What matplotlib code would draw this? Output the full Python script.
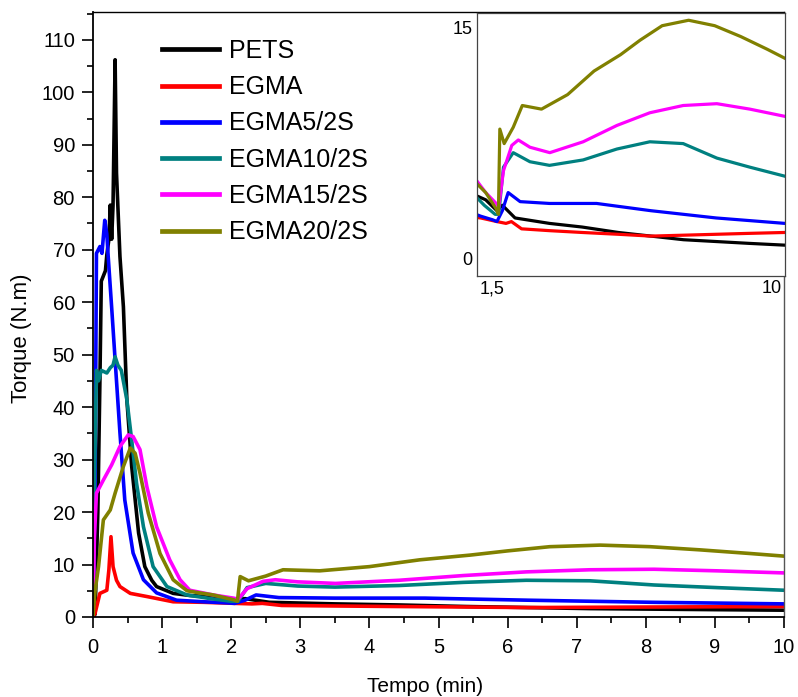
import matplotlib
matplotlib.use("Agg")
import matplotlib.pyplot as plt
from matplotlib.ticker import MultipleLocator

plt.rcParams['font.family'] = ['Liberation Sans', 'DejaVu Sans']

# ---- data (time in min, torque in N.m) ----
pets_t = [0, 0.03, 0.07, 0.1, 0.12, 0.15, 0.18, 0.2, 0.23, 0.25, 0.27, 0.29, 0.32, 0.34, 0.39,
          0.44, 0.49, 0.56, 0.66, 0.75, 0.85, 0.92, 1.16, 1.4, 1.74, 2.05, 2.2, 2.55, 3.5,
          4.4, 5.4, 6.3, 7.2, 8.1, 9.0, 10]
pets_y = [0, 0.5, 20, 45, 64, 65, 66, 69, 72, 78.5, 72, 78.5, 106.2, 84.6, 68.7,
          59.1, 41.4, 28.7, 16, 9.6, 7.0, 5.8, 4.5, 4.1, 3.8, 3.2, 3.5, 2.8, 2.5,
          2.3, 2.0, 1.8, 1.6, 1.5, 1.4, 1.3]

egma_t = [0, 0.03, 0.1, 0.2, 0.23, 0.26, 0.29, 0.34, 0.39, 0.54, 0.78, 1.16, 1.6, 2.05,
          2.3, 2.45, 2.73, 3.5, 4.4, 5.4, 6.3, 7.2, 8.1, 9.0, 10]
egma_y = [0, 0.7, 4.5, 5.1, 9, 15.3, 9.6, 7, 5.8, 4.5, 3.9, 2.9, 2.8, 2.6,
          2.5, 2.6, 2.2, 2.1, 2.0, 1.9, 1.8, 1.85, 1.9, 1.95, 2.0]

e5_t = [0, 0.03, 0.05, 0.1, 0.13, 0.17, 0.2, 0.22, 0.27, 0.33, 0.39, 0.46, 0.58, 0.73,
        0.92, 1.21, 1.6, 1.93, 2.05, 2.2, 2.36, 2.69, 3.5, 4.8, 6.3, 8.1, 10]
e5_y = [0, 25, 69.3, 70.6, 69.3, 75.6, 73, 68.7, 59, 47, 35.1, 22.3, 12.2, 7.1,
        4.6, 3.2, 2.9, 2.7, 2.6, 3.2, 4.2, 3.7, 3.6, 3.6, 3.2, 2.8, 2.5]

e10_t = [0, 0.02, 0.05, 0.08, 0.12, 0.2, 0.25, 0.29, 0.32, 0.36, 0.41, 0.49, 0.56, 0.63,
         0.73, 0.87, 1.07, 1.36, 1.7, 2.0, 2.1, 2.23, 2.5, 2.96, 3.5, 4.43, 5.36, 6.27,
         7.19, 8.12, 9.03, 10]
e10_y = [0, 25, 47, 45, 47, 46.5, 47.5, 48, 49.6, 48, 47, 41.4, 33.7, 25.5,
         17.2, 9.6, 5.8, 4.2, 3.5, 3.0, 3.0, 5.6, 6.4, 5.9, 5.7, 6.0, 6.6, 7.0,
         6.9, 6.1, 5.6, 5.1]

e15_t = [0, 0.02, 0.05, 0.15, 0.27, 0.39, 0.51, 0.58, 0.68, 0.78, 0.92, 1.11, 1.26, 1.4,
         1.74, 2.03, 2.1, 2.23, 2.46, 2.64, 2.96, 3.51, 4.43, 5.36, 6.27, 7.19, 8.12,
         9.03, 10]
e15_y = [0, 15, 23.6, 26.1, 29, 32.5, 34.7, 34.4, 31.9, 24.8, 17.2, 10.9, 7.1, 5.1,
         4.2, 3.6, 3.4, 5.4, 6.8, 7.1, 6.7, 6.4, 7.0, 7.9, 8.6, 9.0, 9.1,
         8.8, 8.4]

e20_t = [0, 0.03, 0.08, 0.15, 0.25, 0.32, 0.44, 0.54, 0.61, 0.68, 0.8, 0.97, 1.16, 1.36,
         1.54, 1.74, 2.03, 2.09, 2.13, 2.25, 2.5, 2.75, 3.28, 4.0, 4.73, 5.46, 6.0, 6.61,
         7.34, 8.06, 8.78, 9.51, 10]
e20_y = [0, 5, 9.6, 18.5, 20.4, 23.6, 28.7, 32.2, 31.2, 27.4, 19.8, 12.1, 7.1, 5.0,
         4.6, 4.2, 3.3, 3.0, 7.7, 6.9, 7.8, 9.0, 8.8, 9.6, 10.9, 11.8, 12.6, 13.4,
         13.7, 13.4, 12.8, 12.1, 11.6]

series = [
    ("PETS", pets_t, pets_y, "#000000"),
    ("EGMA", egma_t, egma_y, "#ff0000"),
    ("EGMA5/2S", e5_t, e5_y, "#0000ff"),
    ("EGMA10/2S", e10_t, e10_y, "#008080"),
    ("EGMA15/2S", e15_t, e15_y, "#ff00ff"),
    ("EGMA20/2S", e20_t, e20_y, "#808000"),
]

W, H = 798, 697
fig = plt.figure(figsize=(W / 100, H / 100), dpi=100)
ax = fig.add_axes([93 / W, 1 - 617 / H, 691 / W, 605 / H])

for name, t, y, c in series:
    ax.plot(t, y, color=c, lw=2.6, label=name, solid_joinstyle='round')

ax.set_xlim(0, 10)
ax.set_ylim(0, 115.3)
ax.xaxis.set_major_locator(MultipleLocator(1))
ax.xaxis.set_minor_locator(MultipleLocator(0.5))
ax.yaxis.set_major_locator(MultipleLocator(10))
ax.yaxis.set_minor_locator(MultipleLocator(5))
ax.tick_params(which='major', direction='out', length=8, width=1.2, labelsize=14.5, top=False, right=False)
ax.tick_params(which='minor', direction='out', length=4.5, width=1.2, top=False, right=False)
ax.tick_params(axis='x', pad=7)
ax.tick_params(axis='y', pad=5)
for s in ['left', 'bottom']:
    ax.spines[s].set_linewidth(1.3)
ax.spines['top'].set_linewidth(1.0)
ax.spines['right'].set_linewidth(1.0)
ax.spines['right'].set_color('#555555')

ax.set_xlabel('Tempo (min)', fontsize=15)
ax.set_ylabel('Torque (N.m)', fontsize=16)
ax.xaxis.set_label_coords(0.48, -0.1)
ax.yaxis.set_label_coords(-0.088, 0.461)

leg = ax.legend(loc='upper left', bbox_to_anchor=(162 / W, 1 - 39 / H),
                bbox_transform=fig.transFigure, frameon=False, fontsize=18,
                borderpad=0, borderaxespad=0, handlelength=2.28,
                handletextpad=0.4, labelspacing=0.49)
for line in leg.get_lines():
    line.set_linewidth(3.4)

# ---- inset ----
axi = fig.add_axes([477 / W, 1 - 276 / H, 308 / W, 263 / H])
for name, t, y, c in series:
    axi.plot(t, y, color=c, lw=2.3, solid_joinstyle='round')
axi.set_xlim(1.5, 10)
axi.set_ylim(-0.4, 14.1)
axi.set_xticks([1.91, 9.64])
axi.set_xticklabels(['1,5', '10'])
axi.set_yticks([0.58, 13.3])
axi.set_yticklabels(['0', '15'])
axi.tick_params(length=0, labelsize=13, pad=3)
for s in axi.spines.values():
    s.set_linewidth(0.9)
    s.set_color('#444444')

fig.savefig('out.png', dpi=100)
